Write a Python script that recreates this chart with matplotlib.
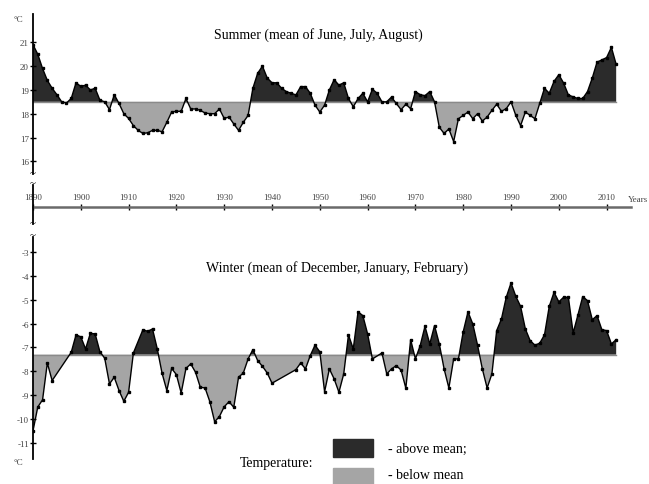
import matplotlib.pyplot as plt
from matplotlib.lines import Line2D
from matplotlib.patches import Rectangle

plt.rcParams['font.family'] = ['Liberation Serif', 'DejaVu Serif']

# summer (JJA) smoothed temperature, one value per year
summer_years = list(range(1890, 2013))
summer_vals = [20.9, 20.5, 19.9, 19.4, 19.07, 18.8, 18.5, 18.45, 18.64, 19.3,
               19.15, 19.2, 19.0, 19.07, 18.57, 18.5, 18.17, 18.8, 18.43, 18.0,
               17.8, 17.5, 17.3, 17.17, 17.2, 17.3, 17.3, 17.24, 17.64, 18.07,
               18.1, 18.1, 18.64, 18.2, 18.2, 18.14, 18.03, 18.0, 18.0, 18.2,
               17.8, 17.86, 17.57, 17.3, 17.64, 17.93, 19.07, 19.7, 20.0, 19.5,
               19.3, 19.3, 19.07, 18.93, 18.86, 18.79, 19.14, 19.14, 18.86, 18.36,
               18.07, 18.36, 19.0, 19.43, 19.2, 19.3, 18.64, 18.29, 18.64, 18.86,
               18.5, 19.03, 18.86, 18.5, 18.5, 18.7, 18.43, 18.17, 18.4, 18.21,
               18.93, 18.8, 18.76, 18.93, 18.5, 17.43, 17.17, 17.36, 16.83, 17.79,
               17.93, 18.07, 17.79, 18.0, 17.69, 17.86, 18.14, 18.4, 18.1, 18.21,
               18.5, 17.93, 17.5, 18.07, 17.93, 17.79, 18.43, 19.07, 18.86, 19.36,
               19.64, 19.29, 18.79, 18.71, 18.64, 18.64, 18.93, 19.5, 20.17, 20.26,
               20.36, 20.79, 20.07]
summer_mean = 18.5

# winter (DJF)
winter_years = [1890, 1891, 1892, 1893, 1894, 1898, 1899, 1900, 1901, 1902,
                1903, 1904, 1905, 1906, 1907, 1908, 1909, 1910, 1911, 1913,
                1914, 1915, 1916, 1917, 1918, 1919, 1920, 1921, 1922, 1923,
                1924, 1925, 1926, 1927, 1928, 1929, 1930, 1931, 1932, 1933,
                1934, 1935, 1936, 1937, 1938, 1939, 1940, 1945, 1946, 1947,
                1948, 1949, 1950, 1951, 1952, 1953, 1954, 1955, 1956, 1957,
                1958, 1959, 1960, 1961, 1963, 1964, 1965, 1966, 1967, 1968,
                1969, 1970, 1971, 1972, 1973, 1974, 1975, 1976, 1977, 1978,
                1979, 1980, 1981, 1982, 1983, 1984, 1985, 1986, 1987, 1988,
                1989, 1990, 1991, 1992, 1993, 1994, 1995, 1996, 1997, 1998,
                1999, 2000, 2001, 2002, 2003, 2004, 2005, 2006, 2007, 2008,
                2009, 2010, 2011, 2012]
winter_vals = [-10.5, -9.5, -9.2, -7.65, -8.39, -7.2, -6.47, -6.55, -7.06, -6.4,
               -6.43, -7.18, -7.45, -8.53, -8.25, -8.81, -9.26, -8.88, -7.23, -6.25,
               -6.32, -6.22, -7.06, -8.08, -8.81, -7.88, -8.14, -8.91, -7.88, -7.69,
               -8.04, -8.67, -8.7, -9.28, -10.12, -9.9, -9.49, -9.28, -9.51, -8.25,
               -8.07, -7.48, -7.09, -7.55, -7.79, -8.07, -8.5, -7.93, -7.65, -7.9,
               -7.34, -6.9, -7.18, -8.86, -7.9, -8.32, -8.88, -8.11, -6.47, -7.06,
               -5.5, -5.66, -6.43, -7.48, -7.23, -8.11, -7.9, -7.76, -7.95, -8.71,
               -6.67, -7.48, -6.92, -6.11, -6.85, -6.08, -6.85, -7.9, -8.7, -7.48,
               -7.48, -6.34, -5.5, -6.01, -6.9, -7.9, -8.7, -8.11, -6.29, -5.8,
               -4.89, -4.29, -4.85, -5.27, -6.22, -6.71, -6.9, -6.82, -6.47, -5.27,
               -4.68, -5.08, -4.89, -4.89, -6.39, -5.63, -4.86, -5.03, -5.83, -5.66,
               -6.25, -6.29, -6.85, -6.67]
winter_mean = -7.3

year_ticks = list(range(1890, 2011, 10))
summer_ticks = [16, 17, 18, 19, 20, 21]
winter_ticks = [-3, -4, -5, -6, -7, -8, -9, -10, -11]

dark = '#2b2b2b'
light = '#a5a5a5'
W, H = 649, 485


def fx(px):
    return px / W


def fy(py):
    return 1 - py / H


fig = plt.figure(figsize=(6.49, 4.85), dpi=100)
ax1 = fig.add_axes([fx(33), fy(208), fx(598), 193 / H])
ax2 = fig.add_axes([fx(33), fy(470), fx(598), 255 / H])


def draw(ax, years, vals, mean):
    ax.fill_between(years, vals, mean, where=[v >= mean for v in vals],
                    interpolate=True, color=dark, lw=0)
    ax.fill_between(years, vals, mean, where=[v <= mean for v in vals],
                    interpolate=True, color=light, lw=0)
    ax.plot([years[0], years[-1]], [mean, mean], color='#8a8a8a', lw=1)
    ax.plot(years, vals, color='black', lw=1.0, marker='s', ms=1.6)


draw(ax1, summer_years, summer_vals, summer_mean)
draw(ax2, winter_years, winter_vals, winter_mean)

for ax in (ax1, ax2):
    ax.set_xlim(1890, 2015.1)
    ax.spines['top'].set_visible(False)
    ax.spines['right'].set_visible(False)
    ax.spines['left'].set_linewidth(1.3)
    ax.tick_params(axis='y', direction='inout', length=4, width=1,
                   labelsize=6.5, labelcolor='#444444', pad=1)

ax1.set_ylim(14.08, 22.19)
ax1.spines['left'].set_bounds(15.47, 22.19)
ax1.set_yticks(summer_ticks)
ax1.set_yticklabels([str(t) for t in summer_ticks])
ax1.spines['bottom'].set_linewidth(1.8)
ax1.spines['bottom'].set_color('#6a6a6a')
ax1.set_xticks(year_ticks)
ax1.set_xticklabels([str(t) for t in year_ticks])
ax1.tick_params(axis='x', direction='inout', length=4, width=1,
                labelsize=6.5, labelcolor='#444444', pad=-12)

ax2.set_ylim(-12.105, -1.391)
ax2.spines['left'].set_bounds(-11.7, -2.36)
ax2.spines['bottom'].set_visible(False)
ax2.set_xticks([])
ax2.set_yticks(winter_ticks)
ax2.set_yticklabels([str(t) for t in winter_ticks])

# axis piece between the two panels
fig.add_artist(Line2D([fx(33), fx(33)], [fy(186), fy(225)], color='black', lw=1.3))
for py in (174, 184, 224, 236):
    fig.text(fx(33), fy(py), '~', ha='center', va='center', fontsize=8)

fig.text(fx(18), fy(20), '°C', ha='center', va='center', fontsize=6.5, color='#444444')
fig.text(fx(18), fy(463), '°C', ha='center', va='center', fontsize=6.5, color='#444444')
fig.text(fx(628), fy(200), 'Years', ha='left', va='center', fontsize=6.5, color='#444444')

fig.text(fx(318), fy(35), 'Summer (mean of June, July, August)',
         ha='center', va='center', fontsize=10)
fig.text(fx(337), fy(268), 'Winter (mean of December, January, February)',
         ha='center', va='center', fontsize=10)

# legend
fig.text(fx(277), fy(463), 'Temperature:', ha='center', va='center', fontsize=10)
fig.add_artist(Rectangle((fx(333), fy(458)), fx(40), 18 / H, color=dark))
fig.add_artist(Rectangle((fx(333), fy(487)), fx(40), 18 / H, color=light))
fig.text(fx(388), fy(449), '- above mean;', ha='left', va='center', fontsize=10)
fig.text(fx(388), fy(476), '- below mean', ha='left', va='center', fontsize=10)

fig.savefig('out.png', dpi=100)
